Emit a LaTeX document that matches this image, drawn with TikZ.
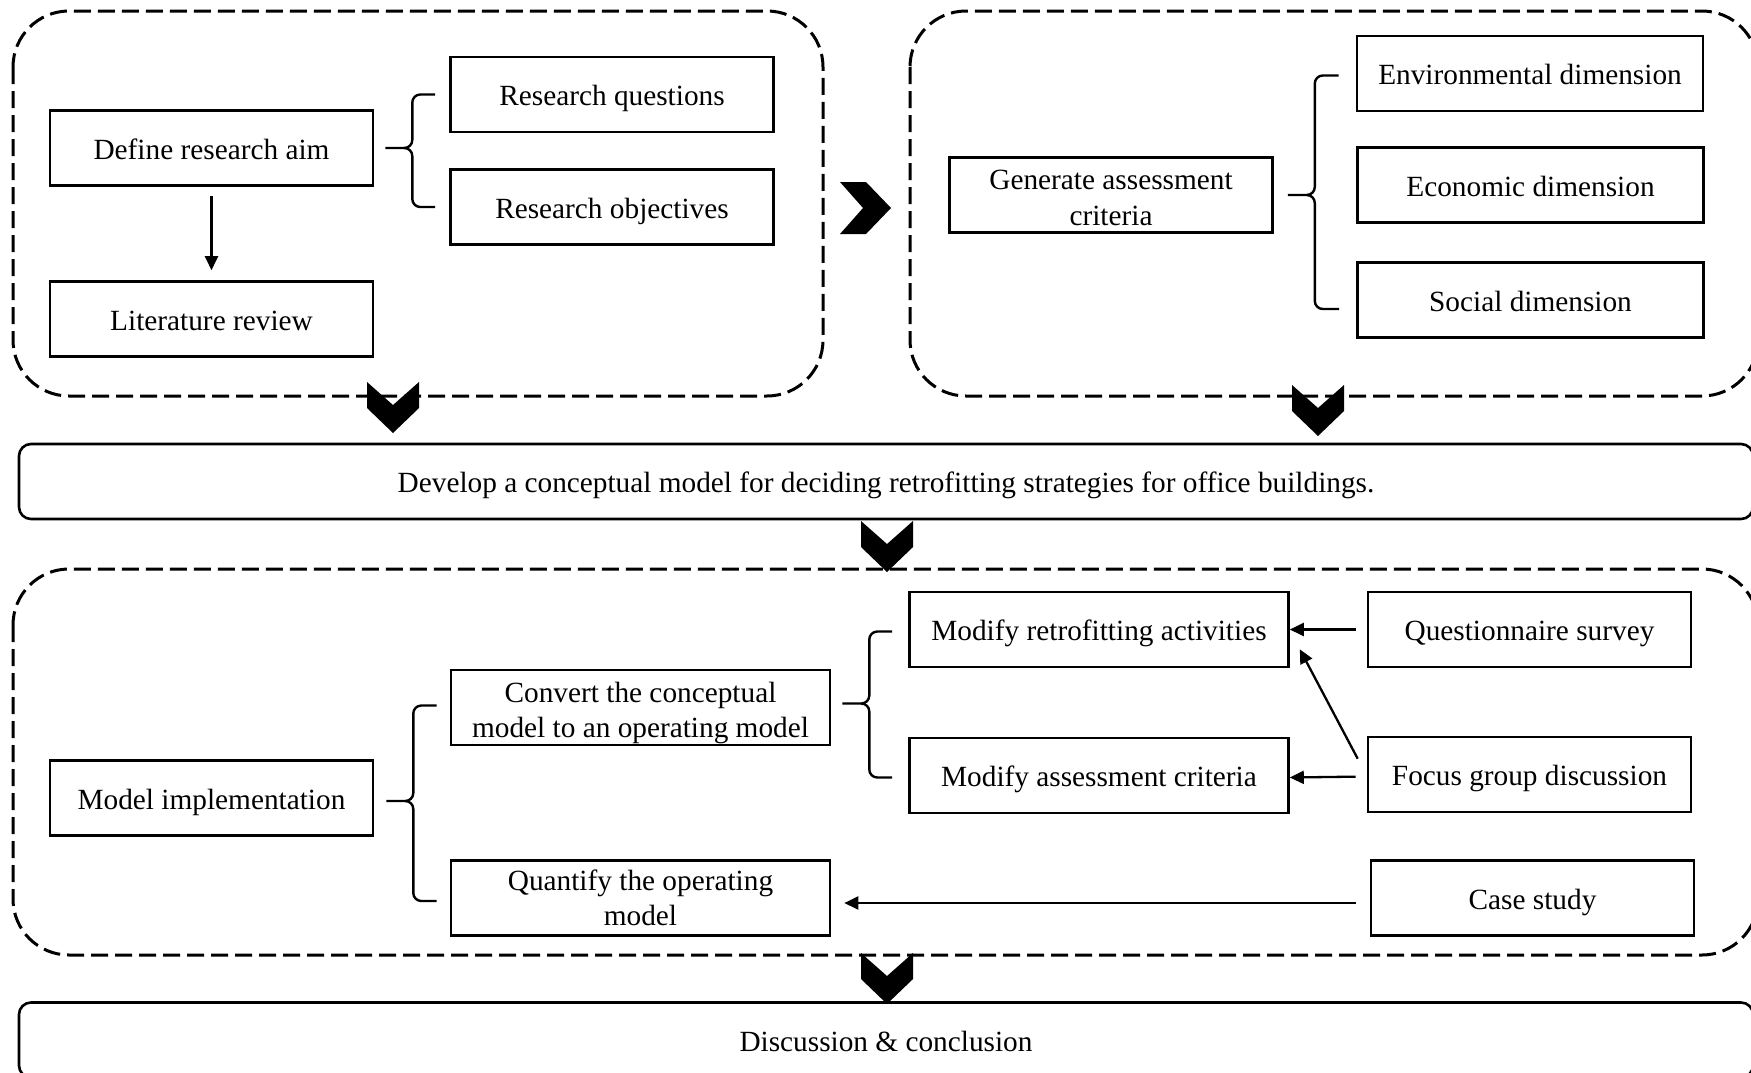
\documentclass[tikz,border=0pt]{standalone}
\usepackage{fontspec}
\setmainfont{Liberation Serif}
\usetikzlibrary{arrows.meta,calc}

\tikzset{
  txt/.style={font=\fontsize{14.65pt}{17.8pt}\selectfont, align=center},
  box/.style={txt, draw, line width=1.3pt, inner sep=2pt, minimum height=37.5pt,
    text height=12pt, text depth=0.8pt},
  twoline/.style={text depth=, text height=#1},
  narrowbox/.style={box, minimum width=161.5pt},
  dimbox/.style={box, minimum width=173pt},
  widebox/.style={box, minimum width=189.5pt},
  stagebox/.style={box, rounded corners=6pt, minimum width=867pt},
  group/.style={line width=1.5pt, dash pattern=on 8.5pt off 3.5pt, rounded corners=28pt},
  bracket/.style={line width=1.2pt, line join=round},
  arr/.style={line width=1.15pt, -{Triangle[length=7pt,width=6.5pt]}},
  chev/.pic={\fill (-26,0) -- (0,23) -- (26,0) -- (26,26) -- (0,51) -- (-26,26) -- cycle;}
}

% curly bracket: #1 tip, #2 upper end, #3 lower end
\newcommand{\curly}[3]{%
  \draw[bracket] (#2) -- ($(#1|-#2)+(35,0)$) to[out=180,in=90] ($(#1|-#2)+(27,8)$)
    -- ($(#1)+(27,-8)$) to[out=-90,in=0] ($(#1)+(19,0)$) -- (#1);
  \draw[bracket] (#3) -- ($(#1|-#3)+(35,0)$) to[out=180,in=-90] ($(#1|-#3)+(27,-8)$)
    -- ($(#1)+(27,8)$) to[out=90,in=0] ($(#1)+(19,0)$);
}

\begin{document}
\begin{tikzpicture}[x=0.5pt,y=-0.5pt]
\useasboundingbox (0,0) rectangle (1751,1072);
\clip (0,0) rectangle (1751,1072);

% dashed stage groups
\draw[group] (13,11) rectangle (823,396);
\draw[group] (910,11) rectangle (1758,396);
\draw[group] (13,569) rectangle (1758,955);

% stage 1: research aim
\node[narrowbox] (aim) at (211.5,148) {Define research aim};
\node[narrowbox] (lit) at (211.5,319) {Literature review};
\node[narrowbox] (rq) at (612,94.5) {Research questions};
\node[narrowbox] (ro) at (612,207) {Research objectives};
\draw[arr, shorten <=4.5pt, shorten >=5pt] (aim) -- (lit);
\coordinate (b1t) at ($(aim.east)+(11,0)$);
\coordinate (b1a) at ($(rq.west)+(-14,0)$);
\coordinate (b1b) at ($(ro.west)+(-14,0)$);
\curly{b1t}{b1a}{b1b}

% stage 2: assessment criteria
\node[narrowbox, twoline=30.5pt] (gen) at (1111,195) {Generate assessment\\criteria};
\node[dimbox] (env) at (1530,73.5) {Environmental dimension};
\node[dimbox] (eco) at (1530.5,185) {Economic dimension};
\node[dimbox] (soc) at (1530.5,300) {Social dimension};
\coordinate (b2t) at ($(gen.east)+(14,0)$);
\coordinate (b2a) at ($(env.west)+(-17,2)$);
\coordinate (b2b) at ($(soc.west)+(-17,9)$);
\curly{b2t}{b2a}{b2b}

% conceptual model
\node[stagebox] (model) at (886,481.5) {Develop a conceptual model for deciding retrofitting strategies for office buildings.};

% stage 3: implementation
\node[narrowbox] (impl) at (211.5,798) {Model implementation};
\node[widebox, twoline=33.4pt, inner ysep=0pt] (conv) at (640.5,707.5) {Convert the conceptual\\model to an operating model};
\node[widebox, twoline=] (quant) at (640.5,898) {Quantify the operating\\model};
\node[widebox] (retro) at (1099,629.5) {Modify retrofitting activities};
\node[widebox] (assess) at (1099,775.5) {Modify assessment criteria};
\node[narrowbox] (quest) at (1529.5,629.5) {Questionnaire survey};
\node[narrowbox] (focus) at (1529.5,774.5) {Focus group discussion};
\node[narrowbox] (case) at (1532.5,898) {Case study};

\coordinate (b3t) at ($(impl.east)+(12,3)$);
\coordinate (b3a) at ($(conv.west)+(-13,-2)$);
\coordinate (b3b) at ($(quant.west)+(-13,3)$);
\curly{b3t}{b3a}{b3b}
\coordinate (b4t) at ($(conv.east)+(11,-4)$);
\coordinate (b4a) at ($(retro.west)+(-16,2)$);
\coordinate (b4b) at ($(assess.west)+(-16,2)$);
\curly{b4t}{b4a}{b4b}

\draw[arr, shorten <=5.5pt] (quest) -- (retro);
\draw[arr, shorten <=5.5pt] ($(focus.west)+(0,2)$) -- ($(assess.east)+(0,2)$);
\draw[arr] ($(focus.north west)+(-9,23)$) -- ($(retro.south east)+(10,-19)$);
\draw[arr, shorten <=7pt, shorten >=6.5pt] ($(case.west)+(0,5)$) -- ($(quant.east)+(0,5)$);

% conclusion
\node[stagebox] (concl) at (886,1040) {Discussion \& conclusion};

% flow chevrons
\pic[rotate=90] at (840,208) {chev};
\pic at (393,382) {chev};
\pic at (1318,385) {chev};
\pic at (887,521) {chev};
\pic at (887,953) {chev};
\end{tikzpicture}
\end{document}
